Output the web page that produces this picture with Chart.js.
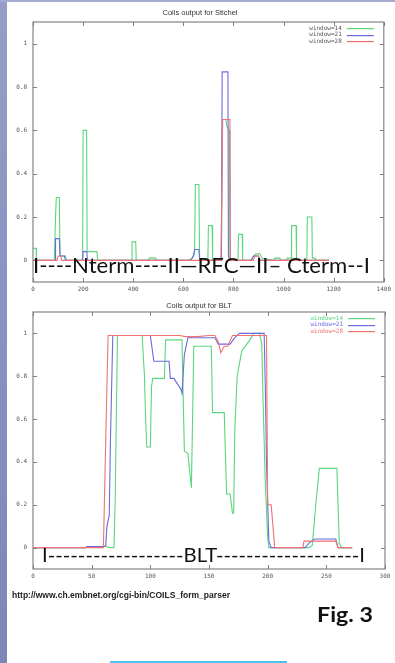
<!DOCTYPE html>
<html><head><meta charset="utf-8">
<script src="https://cdn.jsdelivr.net/npm/chart.js@4/dist/chart.umd.min.js"></script>
<style>
html,body{margin:0;padding:0;background:#fff;width:395px;height:663px;overflow:hidden;position:relative}
#strip{position:absolute;left:0;top:0;width:7px;height:663px;background:linear-gradient(#959dc8,#7e86b6)}
#topbar{position:absolute;left:0;top:0;width:395px;height:2px;background:#a6acd2}
.cv{position:absolute;left:0}
.title{position:absolute;font:7.5px "Liberation Sans",Arial,sans-serif;color:#333;white-space:nowrap;transform:translateX(-50%)}
.over{position:absolute;white-space:nowrap;color:#111;transform-origin:0 0;font-family:Lato,sans-serif}
#cyan{position:absolute;left:110px;top:661px;width:177px;height:2px;background:#4cc3e8}
</style></head>
<body>
<div id="strip"></div><div id="topbar"></div>
<canvas id="c1" class="cv" width="395" height="300" style="top:0"></canvas>
<canvas id="c2" class="cv" width="395" height="290" style="top:295px"></canvas>
<div class="title" style="left:200px;top:8px">Coils output for Stichel</div>
<div class="title" style="left:199px;top:301px">Coils output for BLT</div>
<div class="over" data-w="337" style="left:33px;top:254px;font-size:21px;line-height:21px">I----Nterm----II—RFC—II– Cterm--I</div>
<div class="over" data-w="323" style="left:42px;top:544px;font-size:20px;line-height:20px">I------------------BLT-------------------I</div>
<div class="over" data-w="218" style="left:12px;top:591px;font:bold 8.5px/8.5px 'Liberation Sans',Arial,sans-serif;color:#222">http://www.ch.embnet.org/cgi-bin/COILS_form_parser</div>
<div class="over" data-w="56" style="left:317px;top:603px;font-size:21px;line-height:21px;font-weight:bold">Fig. 3</div>
<div id="cyan"></div>
<script>
// ---- Stichel data ----
const stichelXTicks=[0,200,400,600,800,1000,1200,1400];
const yTickValues=[0,0.2,0.4,0.6,0.8,1];
const seriesLabels=['window=14','window=21','window=28'];

const stichelX14=[0,12,14,85,90,93,105,108,130,133,198,200,214,216,228,255,258,393,395,410,412,460,465,490,495,620,635,645,648,650,662,665,698,700,715,717,752,756,770,774,783,786,818,820,835,837,870,880,890,905,915,960,965,985,990,1010,1015,1030,1032,1050,1052,1093,1095,1113,1115,1125,1130,1181];
const stichelY14=[0.055,0.055,0,0,0.2,0.29,0.29,0.02,0.02,0,0,0.6,0.6,0.04,0.04,0.04,0,0,0.085,0.085,0,0,0.01,0.01,0,0,0.01,0.03,0.35,0.35,0.35,0,0,0.16,0.16,0,0,0.65,0.65,0.62,0.6,0,0,0.12,0.12,0,0,0.02,0.03,0.03,0.01,0,0.01,0.01,0,0,0.01,0.01,0.16,0.16,0,0,0.2,0.2,0.01,0.01,0,0];

const stichelX21=[0,88,90,105,108,125,130,198,200,215,217,630,640,645,662,665,752,755,778,780,785,870,880,900,905,1181];
const stichelY21=[0,0,0.1,0.1,0.02,0.02,0,0,0.04,0.04,0,0,0.02,0.05,0.05,0,0,0.87,0.87,0.02,0,0,0.02,0.02,0,0];

const stichelX28=[0,95,100,110,115,750,757,786,788,880,885,900,905,1181];
const stichelY28=[0,0,0.02,0.02,0,0,0.65,0.65,0,0,0.02,0.02,0,0];

// ---- BLT data ----
const bltXTicks=[0,50,100,150,200,250,300];

const bltX14=[0,45,46,62,66,69,70,71,72,93,95,96,97,100,101,102,112,113,127,128,129,132,135,136,137,152,153,163,165,168,170,171,172,174,178,185,188,193,195,196,198,200,201,235,238,241,244,259,261,263,272];
const bltY14=[0,0,0.005,0.005,0,0,0.2,0.6,0.99,0.99,0.8,0.6,0.47,0.47,0.75,0.79,0.79,0.97,0.97,0.7,0.45,0.44,0.28,0.6,0.94,0.94,0.63,0.63,0.25,0.25,0.16,0.16,0.55,0.8,0.92,0.97,1,1,0.95,0.7,0.3,0.05,0,0,0.01,0.2,0.37,0.37,0.02,0,0];

const bltX21=[0,45,46,60,62,63,65,66,68,100,103,116,117,120,126,127,129,132,155,158,168,172,176,197,198,199,201,203,232,235,240,258,260,272];
const bltY21=[0,0,0.005,0.005,0.01,0.1,0.15,0.5,0.99,0.99,0.87,0.87,0.79,0.79,0.74,0.72,0.9,0.98,0.98,0.95,0.95,0.98,1,1,0.75,0.4,0.03,0,0,0.02,0.04,0.04,0,0];

const bltX28=[0,60,62,64,125,130,140,150,155,158,160,163,166,170,199,200,203,206,230,231,258,260,272];
const bltY28=[0,0,0.5,0.99,0.99,0.985,0.985,0.99,0.99,0.96,0.91,0.94,0.94,0.99,0.99,0.2,0.2,0,0,0.03,0.03,0,0];

const colors=['#5ad67c','#6b6be0','#f07272'];

function pts(xs,ys){return xs.map((x,i)=>({x:x,y:ys[i]}));}

function makeFrame(legendTextColored){
  return {id:'frame',afterDraw(c){
    const a=c.chartArea,ctx=c.ctx;ctx.save();
    ctx.strokeStyle='#8e8e8e';ctx.lineWidth=1.3;
    ctx.strokeRect(a.left,a.top,a.right-a.left,a.bottom-a.top);
    ctx.lineWidth=1;ctx.strokeStyle='#808080';
    const xs=c.scales.x,ys=c.scales.y;
    xs.ticks.forEach(t=>{const p=Math.round(xs.getPixelForValue(t.value))+0.5;ctx.beginPath();ctx.moveTo(p,a.bottom);ctx.lineTo(p,a.bottom-4);ctx.moveTo(p,a.top);ctx.lineTo(p,a.top+4);ctx.stroke();});
    ys.ticks.forEach(t=>{const p=Math.round(ys.getPixelForValue(t.value))+0.5;ctx.beginPath();ctx.moveTo(a.left,p);ctx.lineTo(a.left+4,p);ctx.moveTo(a.right,p);ctx.lineTo(a.right-4,p);ctx.stroke();});
    // legend (gnuplot style, inside top-right)
    ctx.font='6px "DejaVu Sans Mono",monospace';ctx.textAlign='right';ctx.textBaseline='middle';
    c.data.datasets.forEach((d,i)=>{
      const y=a.top+6+i*6.7;
      ctx.fillStyle=legendTextColored?d.borderColor:'#555';
      ctx.fillText(d.label,a.right-42,y);
      ctx.fillStyle=d.borderColor;
      ctx.fillRect(a.right-37,Math.round(y),27,1.2);
    });
    ctx.restore();
  }};
}

function makeChart(id,xs14,ys14,xs21,ys21,xs28,ys28,xmax,xTicks,padTop,xHeight,colored){
  const datasets=[[xs14,ys14],[xs21,ys21],[xs28,ys28]].map((s,i)=>({
    label:seriesLabels[i],data:pts(s[0],s[1]),borderColor:colors[i],borderWidth:1.1,
    pointRadius:0,tension:0,fill:false,order:3-i
  }));
  return new Chart(document.getElementById(id),{
    type:'line',data:{datasets},
    plugins:[makeFrame(colored)],
    options:{
      responsive:false,animation:false,devicePixelRatio:1,
      layout:{padding:{top:padTop,right:10,left:0,bottom:0}},
      plugins:{legend:{display:false},tooltip:{enabled:false},title:{display:false}},
      scales:{
        x:{type:'linear',min:0,max:xmax,
          afterBuildTicks:s=>{s.ticks=xTicks.map(v=>({value:v}));},
          afterFit:s=>{s.height=xHeight;},
          grid:{display:false,drawTicks:false},border:{display:false},
          ticks:{autoSkip:false,maxRotation:0,minRotation:0,padding:4,color:'#555',font:{family:'DejaVu Sans Mono',size:6},callback:v=>String(v)}},
        y:{type:'linear',min:-0.1,max:1.1,
          afterBuildTicks:s=>{s.ticks=yTickValues.map(v=>({value:v}));},
          afterFit:s=>{s.width=33;},
          grid:{display:false,drawTicks:false},border:{display:false},
          ticks:{autoSkip:false,padding:6,color:'#555',font:{family:'DejaVu Sans Mono',size:6},callback:v=>String(v)}}
      }
    }
  });
}

makeChart('c1',stichelX14,stichelY14,stichelX21,stichelY21,stichelX28,stichelY28,1400,stichelXTicks,22,18,false);
makeChart('c2',bltX14,bltY14,bltX21,bltY21,bltX28,bltY28,300,bltXTicks,17,16,true);

document.querySelectorAll('.over').forEach(el=>{
  const w=+el.dataset.w;const cur=el.getBoundingClientRect().width;
  if(cur>0)el.style.transform='scaleX('+(w/cur)+')';
});
</script>
</body></html>
